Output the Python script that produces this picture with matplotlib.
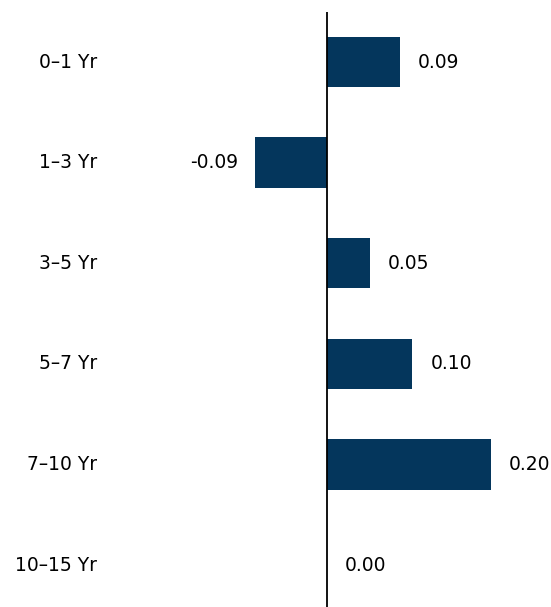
import matplotlib
matplotlib.use("Agg")
import matplotlib.pyplot as plt

# datos
categories = ["0–1 Yr", "1–3 Yr", "3–5 Yr", "5–7 Yr", "7–10 Yr", "10–15 Yr"]
values = [0.089, -0.088, 0.052, 0.104, 0.200, 0.0]
labels = ["0.09", "-0.09", "0.05", "0.10", "0.20", "0.00"]

BAR_COLOR = "#04365c"
FS = 13.5

plt.rcParams["font.family"] = ["DejaVu Sans"]

W, H = 551, 607
fig = plt.figure(figsize=(W / 100, H / 100), dpi=100)
# el eje empieza ~12px por debajo del borde superior
ax = fig.add_axes([0, 0, 1, (H - 12) / H])

pos = list(range(len(categories)))
ax.barh(pos, values, height=0.5, color=BAR_COLOR, zorder=2)
ax.axvline(0, color="black", linewidth=1.3, zorder=3)

ax.set_xlim(-0.399, 0.273)
ax.set_ylim(5.417, -0.497)
ax.axis("off")

# etiquetas de categoría (alineadas a la derecha)
ytrans = ax.get_yaxis_transform()
for p, cat in zip(pos, categories):
    ax.text(97 / W, p, cat, transform=ytrans, ha="right", va="center",
            fontsize=FS, color="black")

# etiquetas de valor
for p, v, lab in zip(pos, values, labels):
    if v < 0:
        ax.annotate(lab, (v, p), xytext=(-12, 0), textcoords="offset points",
                    ha="right", va="center", fontsize=FS)
    else:
        ax.annotate(lab, (v, p), xytext=(13, 0), textcoords="offset points",
                    ha="left", va="center", fontsize=FS)

fig.savefig("out.png", dpi=100)
